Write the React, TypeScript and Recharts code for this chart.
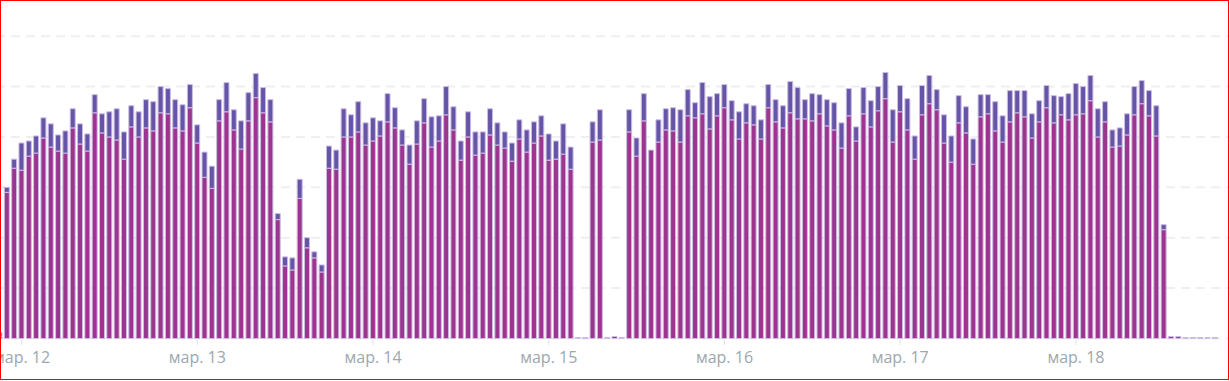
import { Bar, BarChart, CartesianGrid, XAxis, YAxis } from 'recharts'

// hourly bars, Mar 11 21:00 .. Mar 18 23:00
const days = [11, 12, 13, 14, 15, 16, 17, 18]
const dayLabels: Record<number, string> = {
  12: 'мар. 12',
  13: 'мар. 13',
  14: 'мар. 14',
  15: 'мар. 15',
  16: 'мар. 16',
  17: 'мар. 17',
  18: 'мар. 18',
}

// lower (magenta) part of each bar
const main11 = [2, 145, 169]
const main12 = [167, 181, 184, 199, 190, 186, 184, 209, 193, 186, 224, 204, 200, 197, 178, 210, 200, 209, 206, 224, 223, 209, 206, 229]
const main13 = [194, 160, 149, 216, 225, 207, 188, 216, 239, 224, 215, 118, 72, 68, 139, 90, 80, 66, 169, 168, 200, 200, 205, 192]
const main14 = [196, 201, 215, 209, 192, 173, 193, 214, 190, 196, 222, 207, 177, 200, 182, 184, 202, 192, 189, 176, 198, 185, 194, 201]
const main15 = [177, 178, 183, 168, 1, 1, 195, 197, 1, 2, 1, 205, 181, 216, 187, 195, 207, 206, 195, 221, 219, 223, 208, 221]
const main16 = [229, 217, 198, 214, 212, 198, 229, 215, 209, 224, 218, 218, 216, 223, 211, 207, 189, 221, 196, 223, 210, 226, 238, 195]
const main17 = [225, 207, 178, 222, 233, 227, 194, 175, 214, 204, 173, 220, 223, 206, 195, 215, 224, 220, 199, 215, 229, 214, 222, 217]
const main18 = [222, 223, 236, 200, 215, 190, 191, 202, 222, 233, 221, 201, 108, 2, 2, 1, 1, 1, 1, 1, 0, 0, 0, 0]

// upper (violet) part of each bar
const extra11 = [4, 5, 9]
const extra12 = [27, 15, 17, 20, 23, 16, 22, 19, 20, 17, 18, 19, 25, 31, 27, 21, 25, 28, 29, 26, 25, 28, 26, 23]
const extra13 = [18, 25, 22, 21, 29, 20, 28, 28, 24, 25, 22, 6, 9, 12, 19, 10, 6, 7, 22, 19, 28, 22, 30, 22]
const extra14 = [23, 15, 28, 20, 15, 19, 23, 24, 30, 25, 28, 23, 19, 25, 23, 21, 26, 22, 16, 18, 19, 22, 21, 20]
const extra15 = [26, 18, 30, 22, 0, 0, 20, 30, 0, 0, 0, 22, 18, 27, 0, 22, 21, 23, 32, 26, 15, 31, 32, 22]
const extra16 = [23, 19, 27, 19, 19, 19, 23, 22, 22, 31, 31, 19, 27, 19, 26, 27, 25, 27, 14, 26, 26, 24, 26, 32]
const extra17 = [26, 31, 23, 29, 28, 20, 28, 26, 27, 26, 25, 22, 19, 29, 26, 31, 22, 26, 24, 21, 22, 27, 18, 26]
const extra18 = [31, 27, 25, 28, 20, 17, 18, 21, 28, 23, 25, 30, 5, 0, 0, 0, 0, 0, 0, 0, 0, 0, 0, 0]

const mainByDay = [main11, main12, main13, main14, main15, main16, main17, main18]
const extraByDay = [extra11, extra12, extra13, extra14, extra15, extra16, extra17, extra18]

const data = days.flatMap((day, d) => {
  const startHour = 24 - mainByDay[d].length
  return mainByDay[d].map((v, h) => ({
    key: `${day}-${startHour + h}`,
    main: v,
    extra: extraByDay[d][h],
  }))
})

const tickLabels: Record<string, string> = {}
Object.entries(dayLabels).forEach(([day, label]) => {
  tickLabels[`${day}-0`] = label
})

const DayTick = (props: any) => {
  const { x, y, payload } = props
  const label = tickLabels[payload.value]
  if (!label) return <g />
  return (
    <g>
      <line x1={x} x2={x} y1={y + 1.5} y2={y + 6.5} stroke="#dde2e6" strokeWidth={1} />
      <text
        x={x}
        y={y + 24.2}
        textAnchor="middle"
        fill="#9ca7b0"
        fontSize={16}
        fontFamily="'Open Sans', sans-serif"
      >
        {label}
      </text>
    </g>
  )
}

export default function App() {
  return (
    <div style={{ position: 'relative', width: 1230, height: 381, overflow: 'hidden', background: '#fff' }}>
      <style>{`body{margin:0}`}</style>
      <div style={{ position: 'absolute', left: -4.26, top: 0 }}>
        <BarChart width={1252} height={381} data={data} margin={{ top: 36.2, right: 0, left: 0, bottom: 0 }}>
          <CartesianGrid vertical={false} stroke="#efefef" strokeWidth={2} strokeDasharray="9 6" />
          <XAxis
            dataKey="key"
            interval={0}
            height={42.5}
            axisLine={false}
            tickLine={false}
            tickSize={0}
            tickMargin={0}
            tick={DayTick}
          />
          <YAxis hide domain={[0, 300]} ticks={[50, 100, 150, 200, 250, 300]} />
          <Bar dataKey="main" stackId="a" fill="#9d358e" stroke="#cdbbe4" strokeWidth={1} barSize={5} isAnimationActive={false} />
          <Bar dataKey="extra" stackId="a" fill="#6555a6" stroke="#cdbbe4" strokeWidth={1} barSize={5} isAnimationActive={false} />
        </BarChart>
      </div>
      <div
        style={{
          position: 'absolute',
          left: 0,
          top: 0,
          width: 1229,
          height: 380,
          border: '1px solid #ff0000',
          boxSizing: 'border-box',
          pointerEvents: 'none',
        }}
      />
    </div>
  )
}
